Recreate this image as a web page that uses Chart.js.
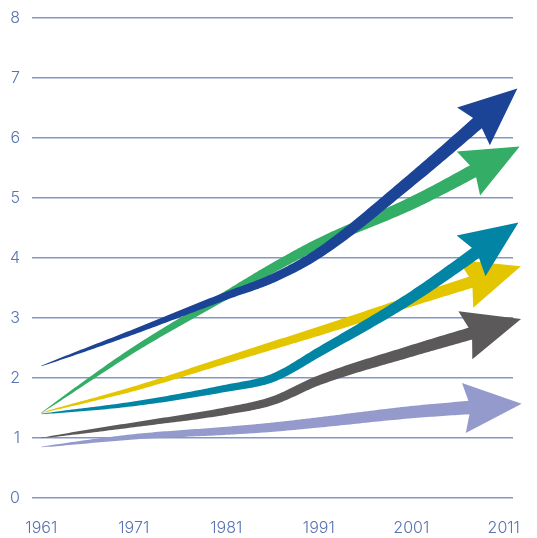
<!DOCTYPE html>
<html>
<head>
<meta charset="utf-8">
<script src="https://cdn.jsdelivr.net/npm/chart.js@4.4.1/dist/chart.umd.min.js"></script>
<style>
  html, body { margin: 0; background: #fff; }
  #wrap { width: 537px; height: 538px; }
</style>
</head>
<body>
<div id="wrap"><canvas id="grafico"></canvas></div>
<script>
const anos = [1961, 1971, 1981, 1986, 1991, 2001, 2011];
const anosEixo = [1961, 1971, 1981, 1991, 2001, 2011];
const valoresEixo = [0, 1, 2, 3, 4, 5, 6, 7, 8];

const lilas = [0.85, 1.02, 1.12, 1.18, 1.26, 1.43, 1.55];
const cinza = [1.0, 1.22, 1.45, 1.62, 1.96, 2.45, 2.9];
const amarelo = [1.42, 1.82, 2.3, 2.54, 2.78, 3.28, 3.77];
const petroleo = [1.4, 1.57, 1.83, 2.0, 2.43, 3.34, 4.42];
const verde = [1.42, 2.47, 3.38, 3.83, 4.24, 4.91, 5.72];
const azul = [2.2, 2.77, 3.37, 3.66, 4.08, 5.3, 6.63];

const series = [
  { dados: lilas, cor: '#949bcc', largura: 14 },
  { dados: cinza, cor: '#5b595a', largura: 13 },
  { dados: amarelo, cor: '#e4c600', largura: 12 },
  { dados: petroleo, cor: '#0284a4', largura: 13 },
  { dados: verde, cor: '#34ad67', largura: 14 },
  { dados: azul, cor: '#1b4496', largura: 14 }
];

// desenha cada serie como uma faixa que engrossa e termina em seta
const setas = {
  id: 'setas',
  afterDatasetsDraw(chart) {
    const ctx = chart.ctx;
    chart.data.datasets.forEach((ds, i) => {
      const meta = chart.getDatasetMeta(i);
      meta.dataset.updateControlPoints(chart.chartArea, 'x');
      const pts = meta.dataset.points;
      const caminho = [];
      for (let k = 0; k < pts.length - 1; k++) {
        const a = pts[k], b = pts[k + 1];
        const c1x = a.cp2x ?? a.x, c1y = a.cp2y ?? a.y;
        const c2x = b.cp1x ?? b.x, c2y = b.cp1y ?? b.y;
        for (let j = 0; j < 30; j++) {
          const t = j / 30, u = 1 - t;
          caminho.push({
            x: u * u * u * a.x + 3 * u * u * t * c1x + 3 * u * t * t * c2x + t * t * t * b.x,
            y: u * u * u * a.y + 3 * u * u * t * c1y + 3 * u * t * t * c2y + t * t * t * b.y
          });
        }
      }
      const ultimo = pts[pts.length - 1];
      caminho.push({ x: ultimo.x, y: ultimo.y });

      // comprimento acumulado
      const comp = [0];
      for (let k = 1; k < caminho.length; k++) {
        comp.push(comp[k - 1] + Math.hypot(caminho[k].x - caminho[k - 1].x, caminho[k].y - caminho[k - 1].y));
      }
      const total = comp[comp.length - 1];
      const esq = [], dir = [];
      caminho.forEach((p, k) => {
        const a = caminho[Math.max(0, k - 1)], b = caminho[Math.min(caminho.length - 1, k + 1)];
        const d = Math.hypot(b.x - a.x, b.y - a.y) || 1;
        const nx = -(b.y - a.y) / d, ny = (b.x - a.x) / d;
        const w = Math.max(0.4, ds.largura * Math.pow(comp[k] / total, 0.6)) / 2;
        esq.push({ x: p.x + nx * w, y: p.y + ny * w });
        dir.push({ x: p.x - nx * w, y: p.y - ny * w });
      });

      ctx.save();
      ctx.fillStyle = ds.corSeta;
      ctx.beginPath();
      ctx.moveTo(esq[0].x, esq[0].y);
      esq.forEach(p => ctx.lineTo(p.x, p.y));
      for (let k = dir.length - 1; k >= 0; k--) ctx.lineTo(dir[k].x, dir[k].y);
      ctx.closePath();
      ctx.fill();

      // ponta da seta
      const prev = caminho[caminho.length - 4];
      const dl = Math.hypot(ultimo.x - prev.x, ultimo.y - prev.y);
      const ux = (ultimo.x - prev.x) / dl, uy = (ultimo.y - prev.y) / dl;
      const px = -uy, py = ux;
      const ponta = { x: ultimo.x + ux * 18, y: ultimo.y + uy * 18 };
      const base = { x: ponta.x - ux * 58, y: ponta.y - uy * 58 };
      const entalhe = { x: base.x + ux * 7, y: base.y + uy * 7 };
      ctx.beginPath();
      ctx.moveTo(ponta.x, ponta.y);
      ctx.lineTo(base.x + px * 25, base.y + py * 25);
      ctx.lineTo(entalhe.x, entalhe.y);
      ctx.lineTo(base.x - px * 25, base.y - py * 25);
      ctx.closePath();
      ctx.fill();
      ctx.restore();
    });
  }
};

const fonteEixo = { family: 'Inter', size: 16, weight: 300 };

new Chart(document.getElementById('grafico'), {
  type: 'line',
  data: {
    datasets: series.map(s => ({
      data: anos.map((a, i) => ({ x: a, y: s.dados[i] })),
      borderWidth: 0,
      borderColor: 'rgba(0,0,0,0)',
      pointRadius: 0,
      cubicInterpolationMode: 'monotone',
      corSeta: s.cor,
      largura: s.largura
    }))
  },
  options: {
    responsive: true,
    maintainAspectRatio: false,
    animation: false,
    layout: { padding: { top: 18, right: 24, left: 0, bottom: 0 } },
    plugins: { legend: { display: false }, tooltip: { enabled: false } },
    scales: {
      x: {
        type: 'linear',
        min: 1960,
        max: 2012,
        afterBuildTicks: scale => { scale.ticks = anosEixo.map(v => ({ value: v })); },
        afterFit: scale => { scale.height = 40; scale.paddingLeft = 0; scale.paddingRight = 0; },
        grid: { display: false, drawTicks: false },
        border: { display: false },
        ticks: { color: '#5773b0', font: fonteEixo, padding: 21, maxRotation: 0, autoSkip: false, callback: v => String(v) }
      },
      y: {
        min: 0,
        max: 8,
        afterBuildTicks: scale => { scale.ticks = valoresEixo.map(v => ({ value: v })); },
        afterFit: scale => { scale.width = 32; scale.paddingTop = 0; scale.paddingBottom = 0; },
        grid: { color: '#8497c3', lineWidth: 1.5, drawTicks: false },
        border: { display: false },
        ticks: { color: '#5773b0', font: fonteEixo, padding: 12 }
      }
    }
  },
  plugins: [setas]
});
</script>
</body>
</html>
